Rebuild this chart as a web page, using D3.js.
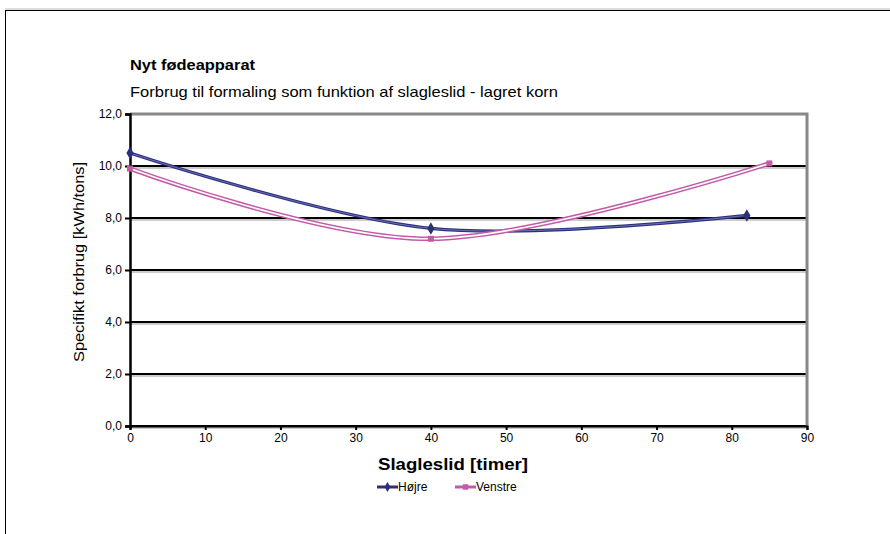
<!DOCTYPE html>
<html><head><meta charset="utf-8">
<script src="https://cdn.jsdelivr.net/npm/d3@7"></script>
<style>body{margin:0;background:#fff}svg{display:block;font-family:"Liberation Sans",Arial,sans-serif}</style>
</head><body><svg id="c" width="890" height="534"></svg>
<script>
const title = "Nyt fødeapparat";
const subtitle = "Forbrug til formaling som funktion af slagleslid - lagret korn";
const xLabel = "Slagleslid [timer]";
const yLabel = "Specifikt forbrug [kWh/tons]";
const hojreX = [0, 40, 82];
const hojreY = [10.5, 7.6, 8.1];
const venstreX = [0, 40, 85];
const venstreY = [9.9, 7.2, 10.1];
const seriesNames = ["Højre", "Venstre"];
const xTicks = [0,10,20,30,40,50,60,70,80,90];
const yTicks = [0,2,4,6,8,10,12];

const svg = d3.select("#c");
const L=130, R=807, T=114, B=426;
const x = d3.scaleLinear().domain([0,90]).range([L,R]);
const y = d3.scaleLinear().domain([0,12]).range([B,T]);
const colors = {"Højre":"#2b2f7e","Venstre":"#c25aa8"};

// outer frame
svg.append("rect").attr("x",5.5).attr("y",10.5).attr("width",900).attr("height",600)
  .attr("fill","none").attr("stroke","#000").attr("stroke-width",1);
svg.append("line").attr("x1",5).attr("x2",890).attr("y1",9).attr("y2",9).attr("stroke","#bbb");

// gridlines
yTicks.forEach(t=>{
  if(t===12) return;
  svg.append("line").attr("x1",L).attr("x2",R).attr("y1",y(t)+2).attr("y2",y(t)+2).attr("stroke","#999").attr("stroke-width",1);
  svg.append("line").attr("x1",L).attr("x2",R).attr("y1",y(t)).attr("y2",y(t)).attr("stroke","#000").attr("stroke-width",2);
});
// plot border top/right grey
svg.append("path").attr("d",`M${L},${T}H${R}V${B}`).attr("fill","none").attr("stroke","#888").attr("stroke-width",3);

// axes
const yAxis = d3.axisLeft(y).tickValues(yTicks).tickSize(5).tickFormat(d=>d3.format(".1f")(d).replace(".",","));
const gy = svg.append("g").attr("transform",`translate(${L},0)`).call(yAxis);
gy.select(".domain").attr("stroke","#000").attr("stroke-width",2.5);
gy.selectAll(".tick line").attr("stroke","#000").attr("stroke-width",2);
gy.selectAll(".tick text").attr("font-size",12).attr("fill","#000").attr("x",-8);

const xAxis = d3.axisBottom(x).tickValues(xTicks).tickSize(4).tickFormat(d3.format("d"));
const gx = svg.append("g").attr("transform",`translate(0,${B})`).call(xAxis);
gx.select(".domain").attr("stroke","#000").attr("stroke-width",2);
gx.selectAll(".tick line").attr("stroke","#000").attr("stroke-width",2);
gx.selectAll(".tick text").attr("font-size",12).attr("fill","#000").attr("dy","0.75em");

// series (smoothed, double-line style)
const series = [
  {name:"Højre", xs:hojreX, ys:hojreY, shape:d3.symbolDiamond, w:3.2, gap:1, gapColor:"#6a6fb0"},
  {name:"Venstre", xs:venstreX, ys:venstreY, shape:d3.symbolSquare, w:4.6, gap:1.6, gapColor:"#fff"}
];
series.forEach(s=>{
  const pts = s.xs.map((v,i)=>[v,s.ys[i]]);
  const line = d3.line().x(d=>x(d[0])).y(d=>y(d[1])).curve(d3.curveCardinal.tension(0));
  svg.append("path").attr("d",line(pts)).attr("fill","none").attr("stroke",colors[s.name]).attr("stroke-width",s.w);
  svg.append("path").attr("d",line(pts)).attr("fill","none").attr("stroke",s.gapColor).attr("stroke-width",s.gap);
  pts.forEach(p=>{
    svg.append("path").attr("d",d3.symbol().type(s.shape).size(s.shape===d3.symbolSquare?36:45)())
      .attr("transform",`translate(${x(p[0])},${y(p[1])})`).attr("fill",colors[s.name]);
  });
});

// titles
svg.append("text").attr("x",130).attr("y",70).attr("font-size",14).attr("font-weight","bold")
  .attr("textLength",125).attr("lengthAdjust","spacingAndGlyphs").text(title);
svg.append("text").attr("x",130).attr("y",97).attr("font-size",15)
  .attr("textLength",428).attr("lengthAdjust","spacingAndGlyphs").text(subtitle);
svg.append("text").attr("x",378).attr("y",470).attr("font-size",16).attr("font-weight","bold")
  .attr("textLength",150).attr("lengthAdjust","spacingAndGlyphs").text(xLabel);
svg.append("text").attr("transform",`translate(84,362) rotate(-90)`).attr("font-size",14)
  .attr("textLength",200).attr("lengthAdjust","spacingAndGlyphs").text(yLabel);

// legend
const lg = [{name:"Højre",x:377,shape:d3.symbolDiamond},{name:"Venstre",x:455,shape:d3.symbolSquare}];
lg.forEach(l=>{
  svg.append("line").attr("x1",l.x).attr("x2",l.x+21).attr("y1",487).attr("y2",487).attr("stroke",colors[l.name]).attr("stroke-width",3);
  svg.append("path").attr("d",d3.symbol().type(l.shape).size(30)()).attr("transform",`translate(${l.x+10.5},487)`).attr("fill",colors[l.name]);
  svg.append("text").attr("x",l.x+21).attr("y",491).attr("font-size",12).text(l.name);
});
</script></body></html>
